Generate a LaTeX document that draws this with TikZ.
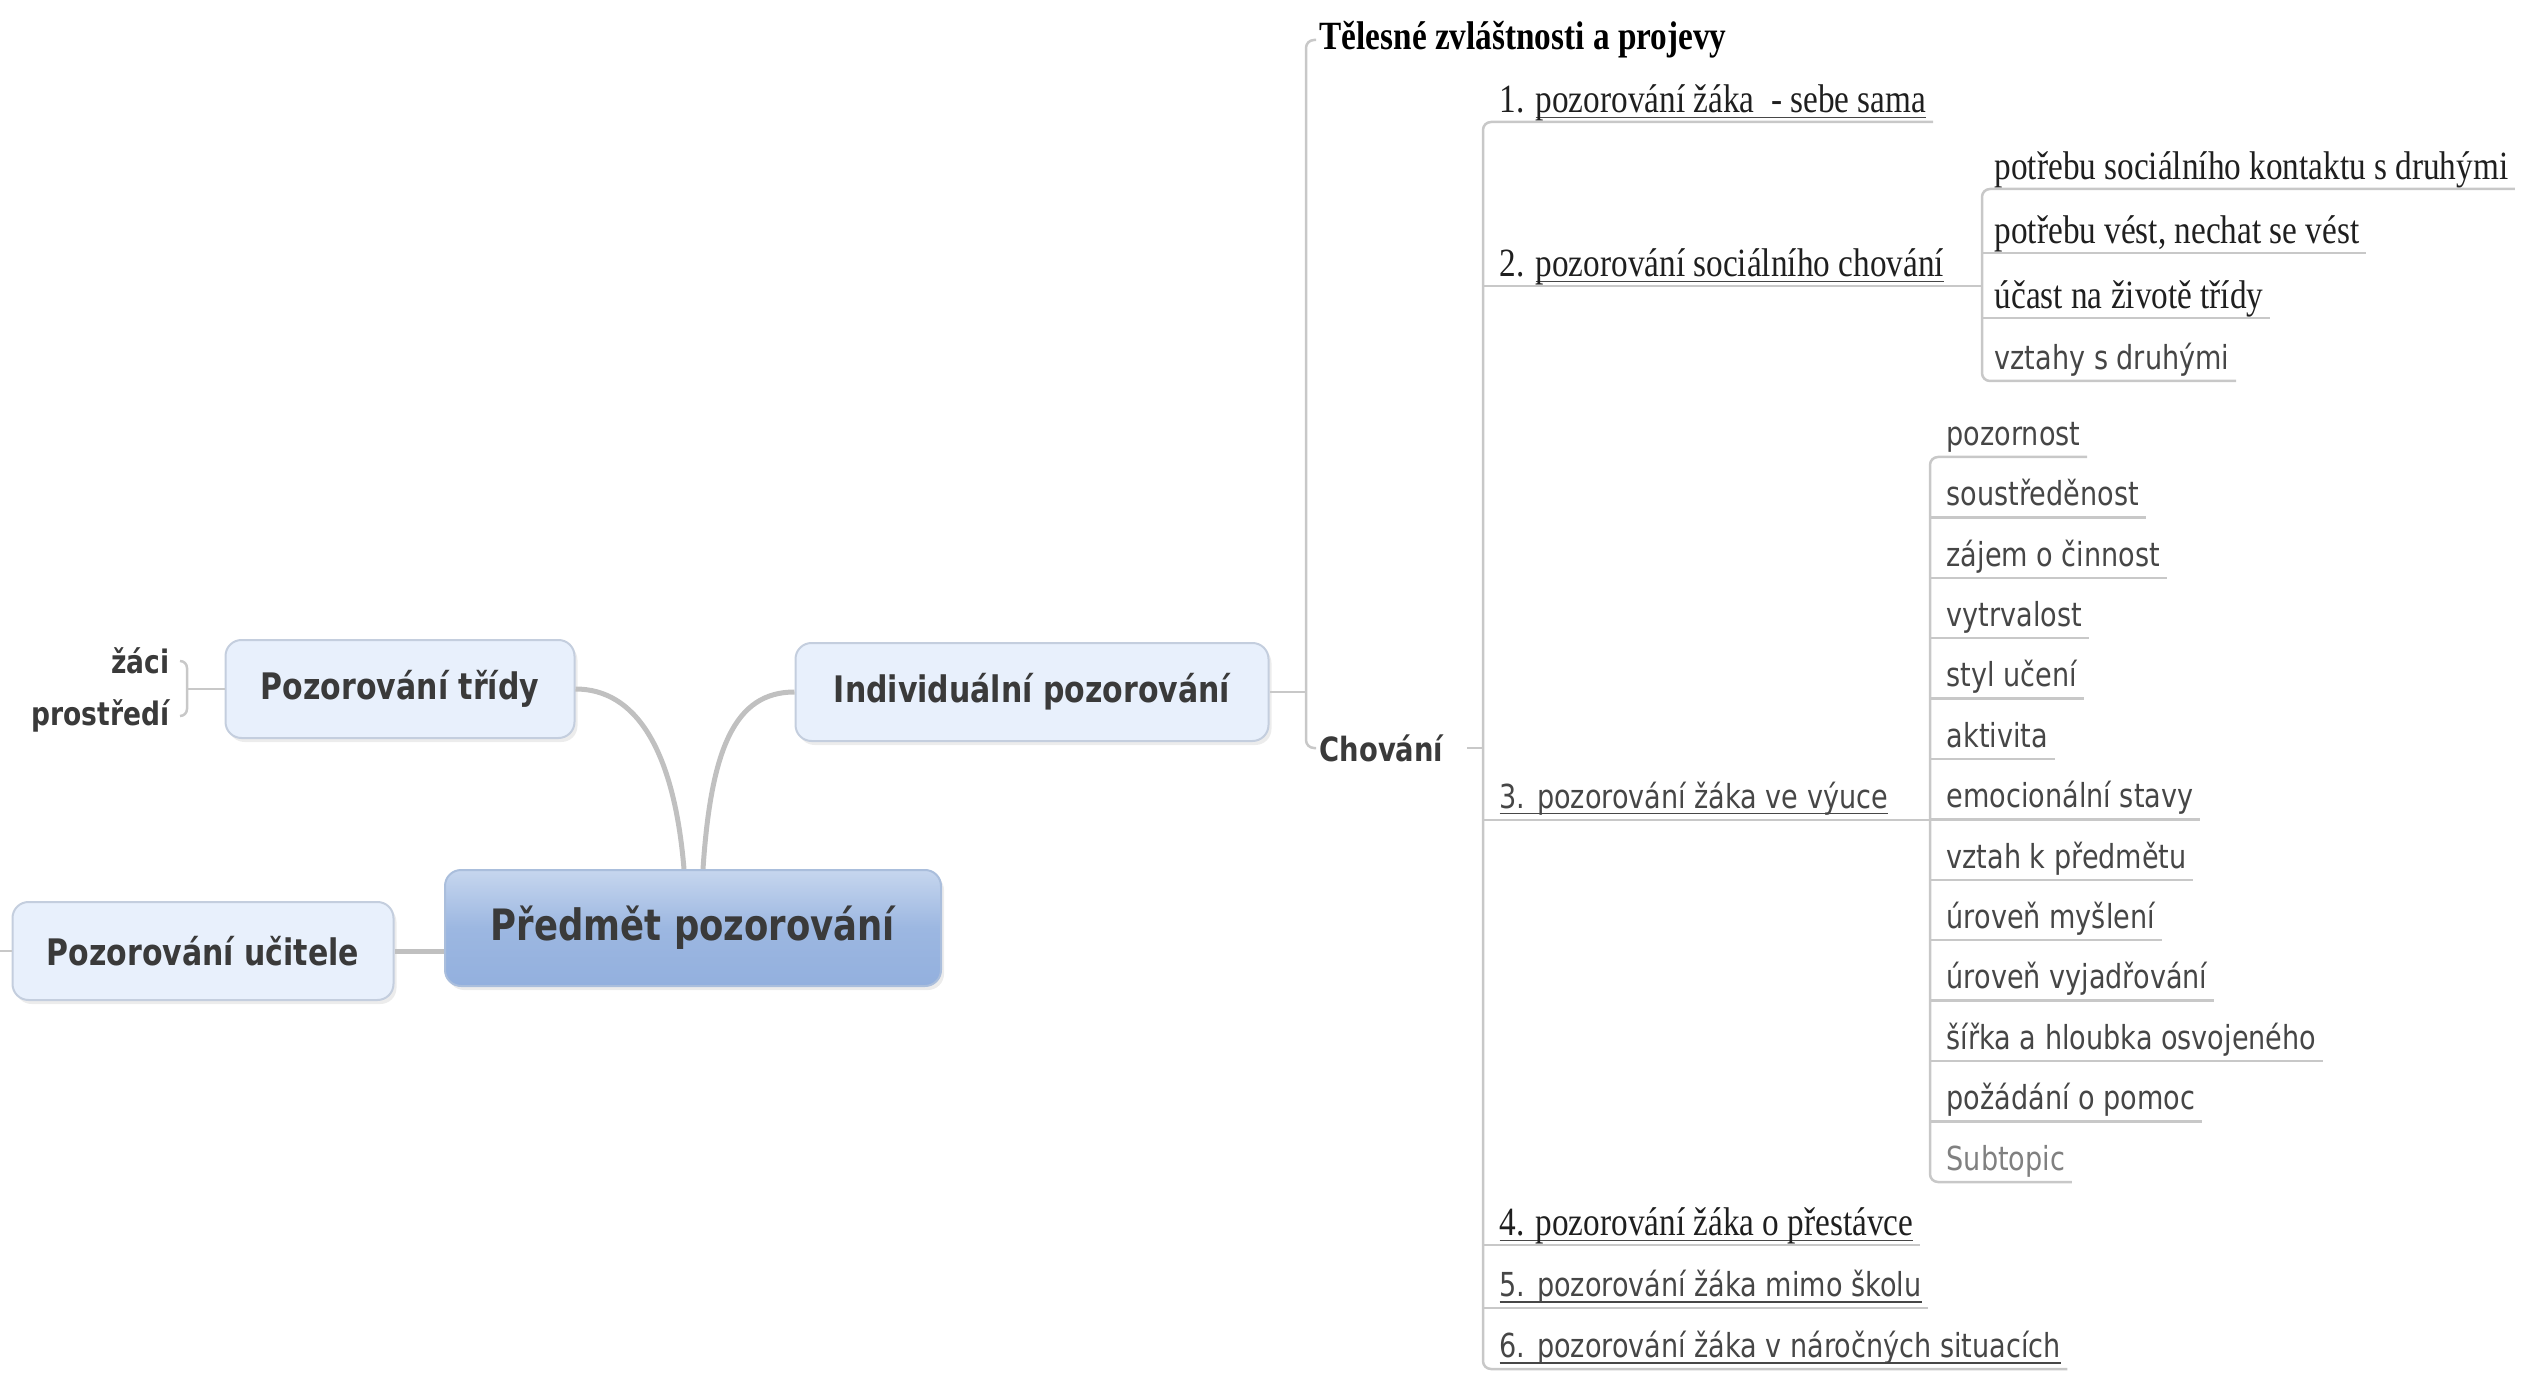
\documentclass[tikz,border=0pt]{standalone}
\usepackage{fontspec}
\setmainfont{Liberation Serif}[FakeStretch=0.83]
\setsansfont{DejaVu Sans}[FakeStretch=0.82]
\usetikzlibrary{shadows}

\definecolor{linegray}{RGB}{200,200,200}
\definecolor{curvegray}{RGB}{192,192,192}
\definecolor{boxfill}{RGB}{232,240,252}
\definecolor{boxedge}{RGB}{196,206,222}
\definecolor{textgray}{RGB}{58,58,58}
\definecolor{leafgray}{RGB}{70,70,70}
\definecolor{subgray}{RGB}{128,128,128}
\definecolor{rootlight}{RGB}{198,214,238}
\definecolor{rootmid}{RGB}{156,183,225}
\definecolor{rootdark}{RGB}{147,176,222}
\definecolor{rootedge}{RGB}{170,190,220}

% underlined (linked) topic text
\newcommand{\hlink}[1]{\setbox0=\hbox{#1}\rlap{\color{black!72}\rule[-0.62mm]{\wd0}{0.18mm}}\box0}

\tikzset{
  branch/.style={draw=linegray, line width=0.25mm},
  curve/.style={draw=curvegray, line width=0.5mm},
  topic/.style={draw=boxedge, line width=0.2mm, fill=boxfill, rounded corners=1.6mm,
    minimum height=9.8mm, text=textgray, font=\sffamily\bfseries\fontsize{10.4}{12}\selectfont,
    drop shadow={opacity=0.15, shadow xshift=0.3mm, shadow yshift=-0.4mm}},
  leaf/.style={anchor=south west, inner xsep=0.6mm, inner ysep=0pt, text depth=1.1mm,
    text=leafgray, font=\sffamily\fontsize{9.4}{11}\selectfont},
  sleaf/.style={leaf, text depth=0.9mm, text=black!88, font=\rmfamily\fontsize{11.4}{13}\selectfont},
}

\begin{document}
\begin{tikzpicture}[x=0.1mm,y=-0.1mm]
\useasboundingbox (0,0) rectangle (2522,1376);

% Centre and first level
\node[topic, minimum width=49.6mm, minimum height=11.6mm, draw=rootedge,
  top color=rootlight, bottom color=rootdark, middle color=rootmid,
  font=\sffamily\bfseries\fontsize{12.3}{14}\selectfont] (root) at (693,928) {Předmět pozorování};
\node[topic, minimum width=34.9mm] (trida) at (400,689) {Pozorování třídy};
\node[topic, minimum width=47.3mm] (indiv) at (1032,692) {Individuální pozorování};
\node[topic, minimum width=38.1mm] (ucitel) at (203,951) {Pozorování učitele};

\draw[curve] ([xshift=-0.9mm]root.north) .. controls +(-10,-120) and +(60,0) .. (trida.east);
\draw[curve] ([xshift=1.0mm]root.north) .. controls +(8,-120) and +(-60,0) .. (indiv.west);
\draw[curve] (ucitel.east) -- (ucitel.east -| root.west);
\coordinate (u0) at (0,951);
\draw[branch] (ucitel.west) -- (u0);

% Pozorovani tridy
\node[anchor=east, inner xsep=1mm, text=textgray, font=\sffamily\bfseries\fontsize{9.2}{11}\selectfont] (zaci) at (180,661) {žáci};
\node[anchor=east, inner xsep=1mm, text=textgray, font=\sffamily\bfseries\fontsize{9.2}{11}\selectfont] (prostredi) at (180,716) {prostředí};
\coordinate (b1) at (187,689);
\draw[branch, rounded corners=0.7mm] (zaci.east) -| (b1) |- (prostredi.east);
\draw[branch] (b1) -- (trida.west);

% Individualni pozorovani
\node[anchor=west, inner xsep=0.3mm, text=black, font=\rmfamily\bfseries\fontsize{11.4}{13}\selectfont] (telesne) at (1316,40) {Tělesné zvláštnosti a projevy};
\node[anchor=west, inner xsep=0.3mm, text=textgray, font=\sffamily\bfseries\fontsize{9.5}{11}\selectfont] (chovani) at (1316,748) {Chování};
\coordinate (t1) at (1306,692);
\coordinate (t2) at (1483,748);
\draw[branch, rounded corners=0.8mm] (telesne.west) -| (t1) |- (chovani.west);
\draw[branch] (indiv.east) -- (t1);
\draw[branch, shorten <=2mm] (chovani.east) -- (t2);

% Chovani
\node[sleaf] (p1) at (1493,122) {1. \hlink{pozorování žáka~ - sebe sama}};
\node[sleaf] (p2) at (1493,286) {2. \hlink{pozorování sociálního chování}};
\node[leaf] (p3) at (1493,820) {\hlink{3. pozorování žáka ve výuce}};
\node[sleaf] (p4) at (1493,1245) {\hlink{4. pozorování žáka o přestávce}};
\node[leaf] (p5) at (1493,1308) {\hlink{5. pozorování žáka mimo školu}};
\node[leaf] (p6) at (1493,1369) {\hlink{6. pozorování žáka v náročných situacích}};
\draw[branch, rounded corners=0.8mm] (p1.south east) -- (p1.south -| t2) -- (p6.south -| t2) -- (p6.south east);
\foreach \n in {p4,p5}
  \draw[branch] (\n.south -| t2) -- (\n.south east);

% socialni chovani
\coordinate (ts) at (1982,286);
\node[sleaf] (s1) at (1988,189) {potřebu sociálního kontaktu s druhými};
\node[sleaf] (s2) at (1988,253) {potřebu vést, nechat se vést};
\node[sleaf] (s3) at (1988,318) {účast na životě třídy};
\node[leaf] (s4) at (1988,381) {vztahy s druhými};
\draw[branch] (p2.south -| t2) -- (ts);
\draw[branch, rounded corners=0.8mm] (s1.south east) -- (s1.south -| ts) -- (s4.south -| ts) -- (s4.south east);
\foreach \n in {s2,s3}
  \draw[branch] (\n.south -| ts) -- (\n.south east);

% zak ve vyuce
\coordinate (tv) at (1930,820);
\foreach \t [count=\i from 0] in {pozornost, soustředěnost, zájem o činnost, vytrvalost, styl učení, aktivita, emocionální stavy, vztah k předmětu, úroveň myšlení, úroveň vyjadřování, šířka a hloubka osvojeného, požádání o pomoc}
  \node[leaf] (v\i) at (1940,{457+60.4*\i}) {\t};
\node[leaf, text=subgray] (v12) at (1940,1182) {Subtopic};
\draw[branch] (p3.south -| t2) -- (tv);
\draw[branch, rounded corners=0.8mm] (v0.south east) -- (v0.south -| tv) -- (v12.south -| tv) -- (v12.south east);
\foreach \i in {1,...,11}
  \draw[branch] (v\i.south -| tv) -- (v\i.south east);
\end{tikzpicture}
\end{document}
